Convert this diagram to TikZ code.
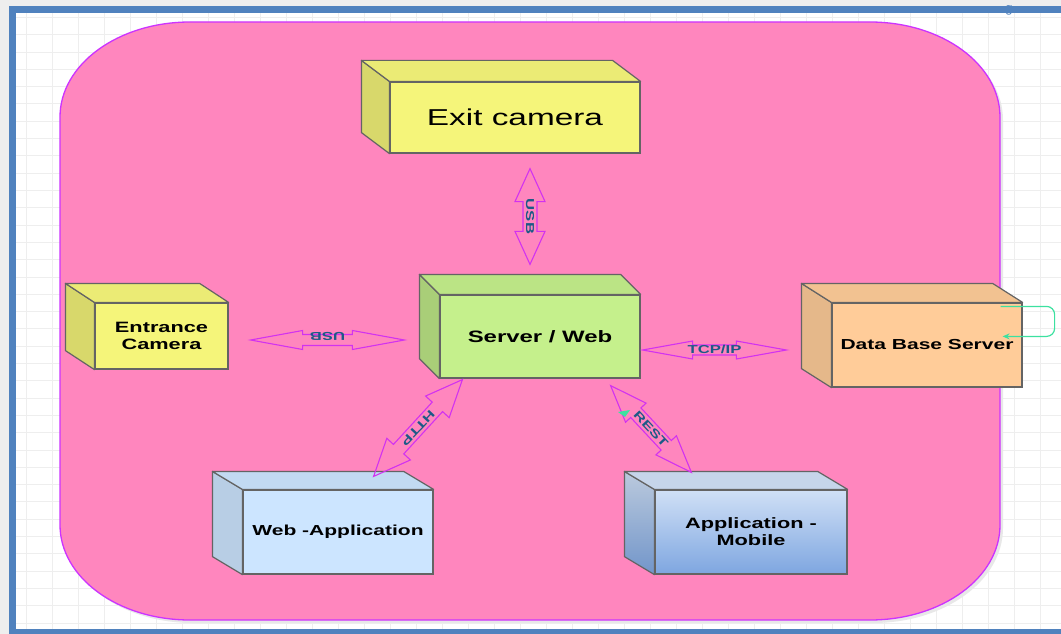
\documentclass[tikz,border=0pt]{standalone}
\usepackage{fontspec}
\setmainfont{Liberation Sans}
\newfontfamily\widefont{Liberation Sans}[FakeStretch=1.45]
\usetikzlibrary{calc,arrows.meta}

\definecolor{pagegray}{RGB}{238,238,238}
\definecolor{gridgray}{RGB}{238,238,238}
\definecolor{frameblue}{RGB}{80,130,190}
\definecolor{boardpink}{RGB}{255,134,190}
\definecolor{boardline}{RGB}{204,51,255}
\definecolor{arrowline}{RGB}{210,50,240}
\definecolor{labelteal}{RGB}{28,90,135}
\definecolor{loopgreen}{RGB}{60,225,160}
\definecolor{edgegray}{RGB}{100,100,100}
\definecolor{camfront}{RGB}{245,245,122}
\definecolor{srvfront}{RGB}{197,240,140}
\definecolor{dbfront}{RGB}{255,204,153}
\definecolor{webfront}{RGB}{204,229,255}
\definecolor{mobtop}{RGB}{208,224,246}
\definecolor{mobbottom}{RGB}{126,166,224}

\tikzset{
	cubefront/.style={draw=edgegray, line width=1.2pt, inner sep=0pt, align=center, font=\widefont\bfseries\fontsize{14.5}{17}\selectfont},
	cubeside/.style={draw=edgegray, line width=1.2pt, line join=round},
	flowarrow/.style={draw=arrowline, line width=1.1pt, line join=miter},
	flowlabel/.style={text=labelteal, inner sep=0pt, font=\widefont\bfseries\fontsize{11.5}{13}\selectfont},
	loopline/.style={draw=loopgreen, line width=1.2pt, rounded corners=8pt, -{Stealth[length=7pt, width=6pt]}}
}

% side and top face of a 3d box: node, depth x, depth y, side fill, top fill
\def\cubesides#1#2#3#4#5{%
	\draw[cubeside, #4] (#1.north west) -- ++(-#2,-#3) -- ($(#1.south west)+(-#2,-#3)$) -- (#1.south west) -- cycle;
	\draw[cubeside, #5] (#1.north west) -- ++(-#2,-#3) -- ($(#1.north east)+(-#2,-#3)$) -- (#1.north east) -- cycle;}

% hollow double block arrow: from, to, head length, head half width, shaft half width
\def\dblarrow#1#2#3#4#5{%
	\draw[flowarrow] (#1) -- ($(#1)!#3!(#2)!#4!90:(#2)$) -- ($(#1)!#3!(#2)!#5!90:(#2)$)
		-- ($(#2)!#3!(#1)!#5!-90:(#1)$) -- ($(#2)!#3!(#1)!#4!-90:(#1)$) -- (#2)
		-- ($(#2)!#3!(#1)!#4!90:(#1)$) -- ($(#2)!#3!(#1)!#5!90:(#1)$)
		-- ($(#1)!#3!(#2)!#5!-90:(#2)$) -- ($(#1)!#3!(#2)!#4!-90:(#2)$) -- cycle;}

\begin{document}
\begin{tikzpicture}[x=1pt, y=-1pt]
			%%%%% FRAME %%%%%
			\useasboundingbox (0,0) rectangle (1061,634);
			\clip (0,0) rectangle (1061,634);
			\fill[pagegray] (0,0) rectangle (1061,634);
			\fill[white] (12,10) rectangle (1075,632);
			\draw[gridgray, line width=0.6pt, xstep=26pt, ystep=17.3pt] (12,10) grid (1075,632);
			\node[text=frameblue, inner sep=0pt, anchor=base, font=\fontsize{13}{13}\selectfont] (corner) at (1009,13) {g};
			\draw[frameblue, line width=7pt] (12,10) rectangle (1075,632);
			
			%%%%% BOARD %%%%%
			\fill[black!9] (63,120) .. controls (63,67.5) and (121,25) .. (193,25) -- (873,25) .. controls (945,25) and (1003,67.5) .. (1003,120)
				-- (1003,528) .. controls (1003,580.5) and (945,623) .. (873,623) -- (193,623) .. controls (121,623) and (63,580.5) .. (63,528) -- cycle;
			\draw[boardline, fill=boardpink, line width=1.3pt] (60,117) .. controls (60,64.5) and (118,22) .. (190,22) -- (870,22) .. controls (942,22) and (1000,64.5) .. (1000,117)
				-- (1000,525) .. controls (1000,577.5) and (942,620) .. (870,620) -- (190,620) .. controls (118,620) and (60,577.5) .. (60,525) -- cycle;
			
			%%%%% BOXES %%%%%
			\node[cubefront, fill=camfront, minimum width=250pt, minimum height=71pt, font=\widefont\fontsize{23}{26}\selectfont] (exit) at (515,117.5) {Exit camera};
			\cubesides{exit}{28}{21}{fill=camfront!88!black}{fill=camfront!96!black}
			
			\node[cubefront, fill=camfront, minimum width=133pt, minimum height=66pt, font=\widefont\bfseries\fontsize{15}{17}\selectfont] (entrance) at (161.5,336) {Entrance\\Camera};
			\cubesides{entrance}{29}{19}{fill=camfront!88!black}{fill=camfront!96!black}
			
			\node[cubefront, fill=srvfront, minimum width=200pt, minimum height=83pt, font=\widefont\bfseries\fontsize{16.5}{19}\selectfont] (server) at (540,336.5) {Server / Web};
			\cubesides{server}{20}{20}{fill=srvfront!86!black}{fill=srvfront!95!black}
			
			\node[cubefront, fill=dbfront, minimum width=190pt, minimum height=84pt] (dbserver) at (927,345) {Data Base Server};
			\cubesides{dbserver}{30}{19}{fill=dbfront!90!black}{fill=dbfront!95!black}
			
			\node[cubefront, fill=webfront, minimum width=190pt, minimum height=84pt] (webapp) at (338,532) {Web -Application};
			\cubesides{webapp}{30}{18}{fill=webfront!90!black}{fill=webfront!95!black}
			
			\node[cubefront, top color=mobtop, bottom color=mobbottom, minimum width=192pt, minimum height=84pt, font=\widefont\bfseries\fontsize{15}{17}\selectfont] (mobile) at (751,532) {Application -\\Mobile};
			\cubesides{mobile}{30}{18}{top color=mobtop!90!black, bottom color=mobbottom!90!black}{fill=mobtop!95!black}
			
			%%%%% LINKS %%%%%
			\coordinate (usbtop) at ($(exit.south)+(15,15)$);
			\coordinate (usbbottom) at ($(server.north)+(-10,-30)$);
			\dblarrow{usbtop}{usbbottom}{33pt}{15pt}{7pt}
			\node[flowlabel, rotate=-90] (usbup) at ($(usbtop)!0.5!(usbbottom)$) {USB};
			
			\coordinate (usbleft) at ($(entrance.east)+(22,4)$);
			\coordinate (usbright) at ($(server.west)+(-35,3.5)$);
			\dblarrow{usbleft}{usbright}{52pt}{9.5pt}{5.5pt}
			\node[flowlabel, rotate=180] (usbside) at ($(usbleft)!0.5!(usbright)+(0,-4)$) {USB};
			
			\coordinate (tcpleft) at ($(server.east)+(2,13.5)$);
			\coordinate (tcpright) at ($(dbserver.west)+(-45,5)$);
			\dblarrow{tcpleft}{tcpright}{50pt}{9pt}{5pt}
			\node[flowlabel] (tcp) at ($(tcpleft)!0.5!(tcpright)+(0,-1)$) {TCP/IP};
			
			\coordinate (httptop) at ($(server.south west)+(23,1)$);
			\coordinate (httpbottom) at ($(webapp.north east)+(-60,-13)$);
			\dblarrow{httptop}{httpbottom}{37pt}{16pt}{7pt}
			\node[flowlabel, rotate=-133] (http) at ($(httptop)!0.5!(httpbottom)$) {HTTP};
			
			\coordinate (resttop) at ($(server.south east)+(-30,7)$);
			\coordinate (restbottom) at ($(mobile.north west)+(37,-17)$);
			\dblarrow{resttop}{restbottom}{37pt}{14pt}{7pt}
			\node[flowlabel, rotate=-47] (rest) at ($(resttop)!0.5!(restbottom)$) {REST};
			\fill[loopgreen] (618,412) -- (630,410) -- (625,417) -- cycle;
			
			\coordinate (loopstart) at ($(dbserver.north east)+(-22,4)$);
			\draw[loopline] (loopstart) -- ++(54,0) -- ++(0,30) -- ++(-52,0);
			
			%%%%% END %%%%%
\end{tikzpicture}
\end{document}
